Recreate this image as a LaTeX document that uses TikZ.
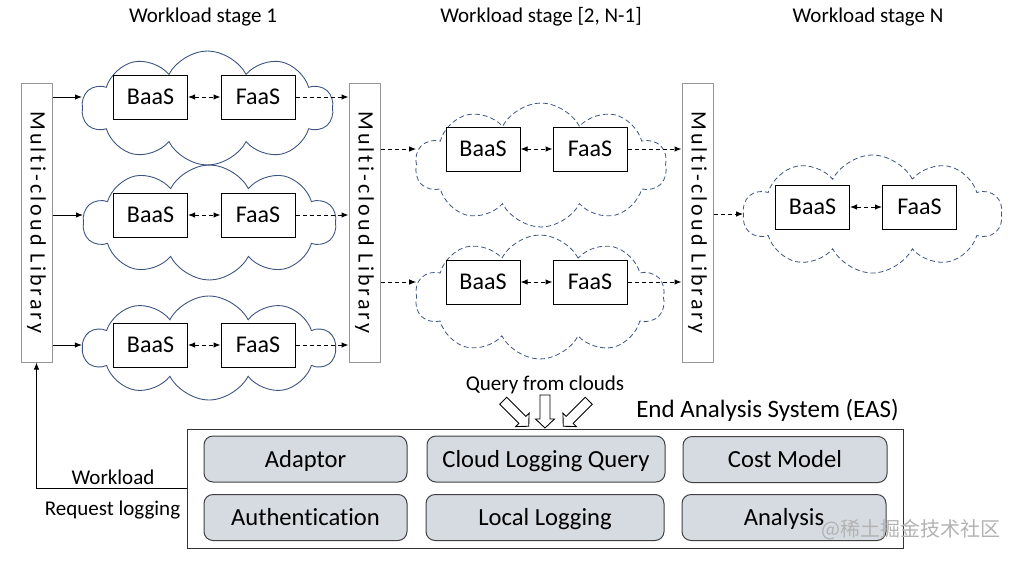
\documentclass[tikz,border=0pt]{standalone}
\usepackage{fontspec}
\setmainfont{Carlito}[Ligatures={NoCommon,NoRare}]
\newfontfamily\cjkfont{Noto Sans CJK SC}
\usetikzlibrary{shapes.symbols,arrows.meta}
\definecolor{cloudc}{RGB}{62,84,128}
\definecolor{easfill}{RGB}{214,219,226}
\definecolor{libc}{RGB}{150,150,150}
\begin{document}
\begin{tikzpicture}[x=1pt,y=-1pt,
  lib/.style={draw=libc, line width=1pt, fill=white, minimum width=279pt, minimum height=31pt, inner sep=0pt, rotate=-90,
    font=\fontsize{22}{22}\selectfont\addfontfeatures{LetterSpace=14}},
  scl/.style={cloud, cloud puffs=10, cloud puff arc=125, cloud ignores aspect, draw=cloudc, line width=0.9pt, inner sep=0pt},
  dcl/.style={scl, dash pattern=on 5pt off 3pt, line width=0.8pt},
  svc/.style={draw=black, line width=1pt, fill=white, minimum width=74pt, minimum height=44pt, inner sep=0pt,
    text height=20.5pt, text depth=5pt, font=\fontsize{24}{24}\selectfont},
  mod/.style={draw=black!75, line width=1pt, fill=easfill, rounded corners=9pt, minimum height=46pt, inner sep=0pt,
    text height=21pt, text depth=5pt, font=\fontsize{24.6}{24.6}\selectfont},
  lbl/.style={font=\fontsize{21}{21}\selectfont, inner sep=0pt},
  sar/.style={line width=1pt, -{Latex[length=7pt,width=5.5pt]}},
  dar/.style={line width=1pt, dash pattern=on 4pt off 3pt, -{Latex[length=7pt,width=5.5pt]}},
  bar/.style={line width=1pt, dash pattern=on 4pt off 3pt, {Latex[length=7pt,width=5.5pt]}-{Latex[length=7pt,width=5.5pt]}},
  qa/.style={draw=black, line width=0.9pt, fill=white}
]
\useasboundingbox (0,0) rectangle (1009,560);

% stage titles
\node[lbl] (t1) at (203,17) {Workload stage 1};
\node[lbl] (t2) at (541,17) {Workload stage [2, N-1]};
\node[lbl] (t3) at (868,17) {Workload stage N};

% clouds
\node[scl, minimum width=251pt, minimum height=114pt] (C1) at (207.5,108) {};
\node[scl, minimum width=253pt, minimum height=115pt] (C2) at (209.5,222.5) {};
\node[scl, minimum width=252pt, minimum height=104pt] (C3) at (209,348) {};
\node[dcl, minimum width=252pt, minimum height=124pt] (CA) at (541,165) {};
\node[dcl, minimum width=250pt, minimum height=124pt] (CB) at (540,297) {};
\node[dcl, minimum width=259pt, minimum height=118pt] (CN) at (872.5,214) {};

% libraries
\node[lib] (L1) at (36.5,222.5) {Multi-cloud Library};
\node[lib] (L2) at (364.5,222.5) {Multi-cloud Library};
\node[lib] (L3) at (697.5,222.5) {Multi-cloud Library};

% services
\node[svc] (B1) at (150.5,97) {BaaS};
\node[svc] (F1) at (258,97) {FaaS};
\node[svc] (B2) at (150.5,215) {BaaS};
\node[svc] (F2) at (258,215) {FaaS};
\node[svc] (B3) at (150.5,345) {BaaS};
\node[svc] (F3) at (258,345) {FaaS};
\node[svc] (BA) at (483,149) {BaaS};
\node[svc] (FA) at (590,149) {FaaS};
\node[svc] (BB) at (483,282) {BaaS};
\node[svc] (FB) at (590,282) {FaaS};
\node[svc] (BN) at (812.5,207) {BaaS};
\node[svc] (FN) at (919.5,207) {FaaS};

% stage 1 arrows
\foreach \b/\f/\c in {B1/F1/C1, B2/F2/C2, B3/F3/C3}{
  \draw[sar] (L1.north |- \b.west) -- (\c.west |- \b.west);
  \draw[bar] (\b.east) -- (\f.west);
  \draw[dar] (\f.east) -- (L2.south |- \f.east);
}
% stage 2 arrows
\foreach \b/\f/\c in {BA/FA/CA, BB/FB/CB}{
  \draw[dar] (L2.north |- \b.west) -- (\c.west |- \b.west);
  \draw[bar] (\b.east) -- (\f.west);
  \draw[dar] (\f.east) -- (L3.south |- \f.east);
}
% stage N arrows
\draw[dar] (L3.north |- CN.west) -- (CN.west);
\draw[bar] (BN.east) -- (FN.west);

% EAS
\node[draw=black!80, line width=1pt, minimum width=716pt, minimum height=119pt, inner sep=0pt] (EAS) at (545,488.5) {};
\node[font=\fontsize{25}{25}\selectfont, inner sep=0pt] (EAST) at (767.5,410) {End Analysis System (EAS)};
\node[mod, minimum width=203pt] (m1) at (305.5,459) {Adaptor};
\node[mod, minimum width=238pt] (m2) at (546,459) {Cloud Logging Query};
\node[mod, minimum width=204pt] (m3) at (785,459.5) {Cost Model};
\node[mod, minimum width=203pt] (m4) at (305.5,517.5) {Authentication};
\node[mod, minimum width=238pt] (m5) at (545,517.5) {Local Logging};
\node[mod, minimum width=204pt] (m6) at (784,517.5) {Analysis};

% query arrows
\node[lbl] (q) at (545,385) {Query from clouds};
\begin{scope}[shift={(545,411.5)}, rotate=-90]
  \draw[qa] (-16.5,-5) -- (7.5,-5) -- (7.5,-9.5) -- (16.5,0) -- (7.5,9.5) -- (7.5,5) -- (-16.5,5) -- cycle;
\end{scope}
\begin{scope}[shift={(516,413.5)}, rotate=-45]
  \draw[qa] (-18,-5) -- (9,-5) -- (9,-9.5) -- (18,0) -- (9,9.5) -- (9,5) -- (-18,5) -- cycle;
\end{scope}
\begin{scope}[shift={(576,413.5)}, rotate=-135]
  \draw[qa] (-18,-5) -- (9,-5) -- (9,-9.5) -- (18,0) -- (9,9.5) -- (9,5) -- (-18,5) -- cycle;
\end{scope}

% feedback
\draw[sar] (EAS.west) -| (L1.east);
\node[lbl] (wk) at (113,477) {Workload};
\node[lbl] (rl) at (112.5,510) {Request logging};

% watermark
\node[font=\cjkfont\fontsize{20}{20}\selectfont, text=black!30, inner sep=0pt] (wm) at (911,530) {@稀土掘金技术社区};
\end{tikzpicture}
\end{document}
